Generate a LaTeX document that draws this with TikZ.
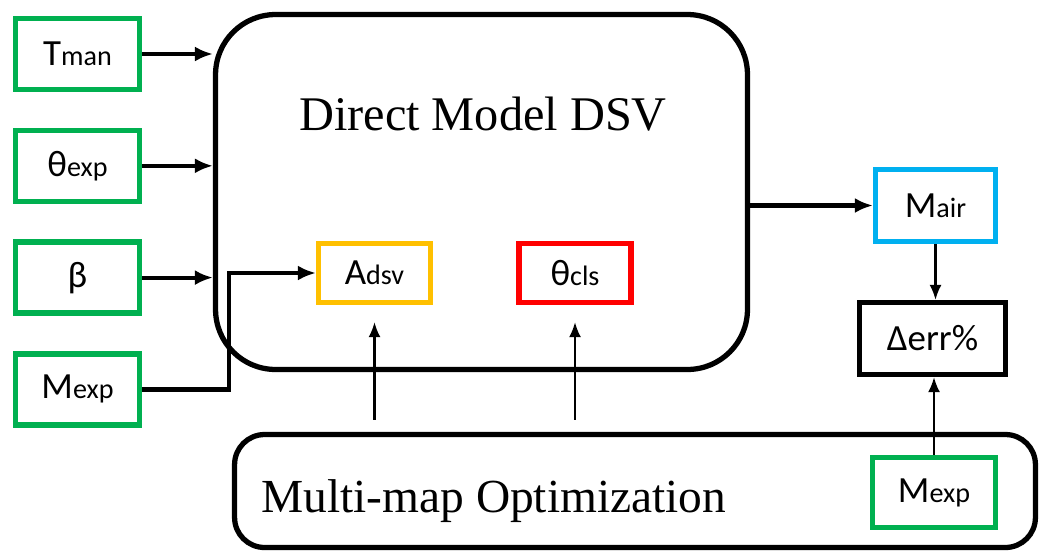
\documentclass[tikz,border=0pt]{standalone}
\usepackage{fontspec}
\setmainfont{Liberation Serif}
\newfontfamily\lblfont{Carlito}
\usetikzlibrary{calc,shapes,arrows.meta,positioning}

\definecolor{ingreen}{RGB}{0,176,80}
\definecolor{dsvorange}{RGB}{255,192,0}
\definecolor{airblue}{RGB}{0,176,240}
\definecolor{clsred}{RGB}{255,0,0}

\newcommand{\sublbl}[2]{#1{\fontsize{16}{18}\selectfont #2}}

\begin{document}
\begin{tikzpicture}[x=0.02cm,y=-0.02cm,
  invar/.style={draw=#1,line width=3pt,inner sep=0pt,
    minimum width=2.48cm,minimum height=1.42cm,
    font=\lblfont\fontsize{21}{24}\selectfont},
  frame/.style={draw,line width=3pt,inner sep=0pt},
  thickarr/.style={line width=2.4pt,-{Latex[length=3.6mm,width=3mm]}},
  thinarr/.style={line width=1.2pt,-{Latex[length=3mm,width=2.4mm]}}]

\useasboundingbox (0,0) rectangle (1043,552);

% the two blocks
\node [frame,rounded corners=1.2cm,minimum width=10.64cm,minimum height=7.1cm] (dsv) at (481.5,192) {};
\node [anchor=base,font=\fontsize{27.5}{30}\selectfont] (dsvtitle) at (483,130) {Direct Model DSV};

\node [frame,rounded corners=0.6cm,minimum width=16.02cm,minimum height=2.26cm] (opt) at (635,491) {};
\node [anchor=base west,font=\fontsize{27}{30}\selectfont] (opttitle) at (255,512) {Multi-map Optimization};

% inputs
\def\inputs{Tman/{\sublbl{T}{man}},thexp/{\sublbl{θ}{exp}},beta/{β},Mexp/{\sublbl{M}{exp}}}
\foreach \name / \txt [count=\i from 0] in \inputs
  \node [invar=ingreen] (\name) at (77.5,{54+111.8*\i}) {\txt};

\node [invar=dsvorange,minimum width=2.24cm,minimum height=1.18cm] (Adsv) at (374.5,273) {\sublbl{A}{dsv}};
\node [invar=clsred,minimum width=2.24cm,minimum height=1.18cm] (thcls) at (575,273) {\sublbl{θ}{cls}};

\node [invar=airblue,minimum width=2.4cm,minimum height=1.44cm] (Mair) at (935.5,205.5) {\sublbl{M}{air}};
\node [invar=black,minimum width=2.92cm,minimum height=1.44cm] (err) at (932.5,338.5) {Δerr\%};
\node [invar=ingreen,minimum width=2.46cm,minimum height=1.4cm] (Mexpout) at (934,492.5) {\sublbl{M}{exp}};

% connectors
\foreach \name in {Tman,thexp,beta}
  \draw [thickarr] (\name.east) -- (\name.east -| dsv.west);
\draw [thickarr] (Mexp.east) -- ++(87,0) |- (Adsv.west);
\draw [thickarr] (Mair.west -| dsv.east) -- (Mair.west);

\draw [thinarr,shorten <=0.24cm,shorten >=0.34cm] (opt.north -| Adsv.south) -- (Adsv.south);
\draw [thinarr,shorten <=0.24cm,shorten >=0.34cm] (opt.north -| thcls.south) -- (thcls.south);
\draw [thinarr] (Mair.south) -- (Mair.south |- err.north);
\draw [thinarr] (Mexpout.north) -- (Mexpout.north |- err.south);

\end{tikzpicture}
\end{document}
